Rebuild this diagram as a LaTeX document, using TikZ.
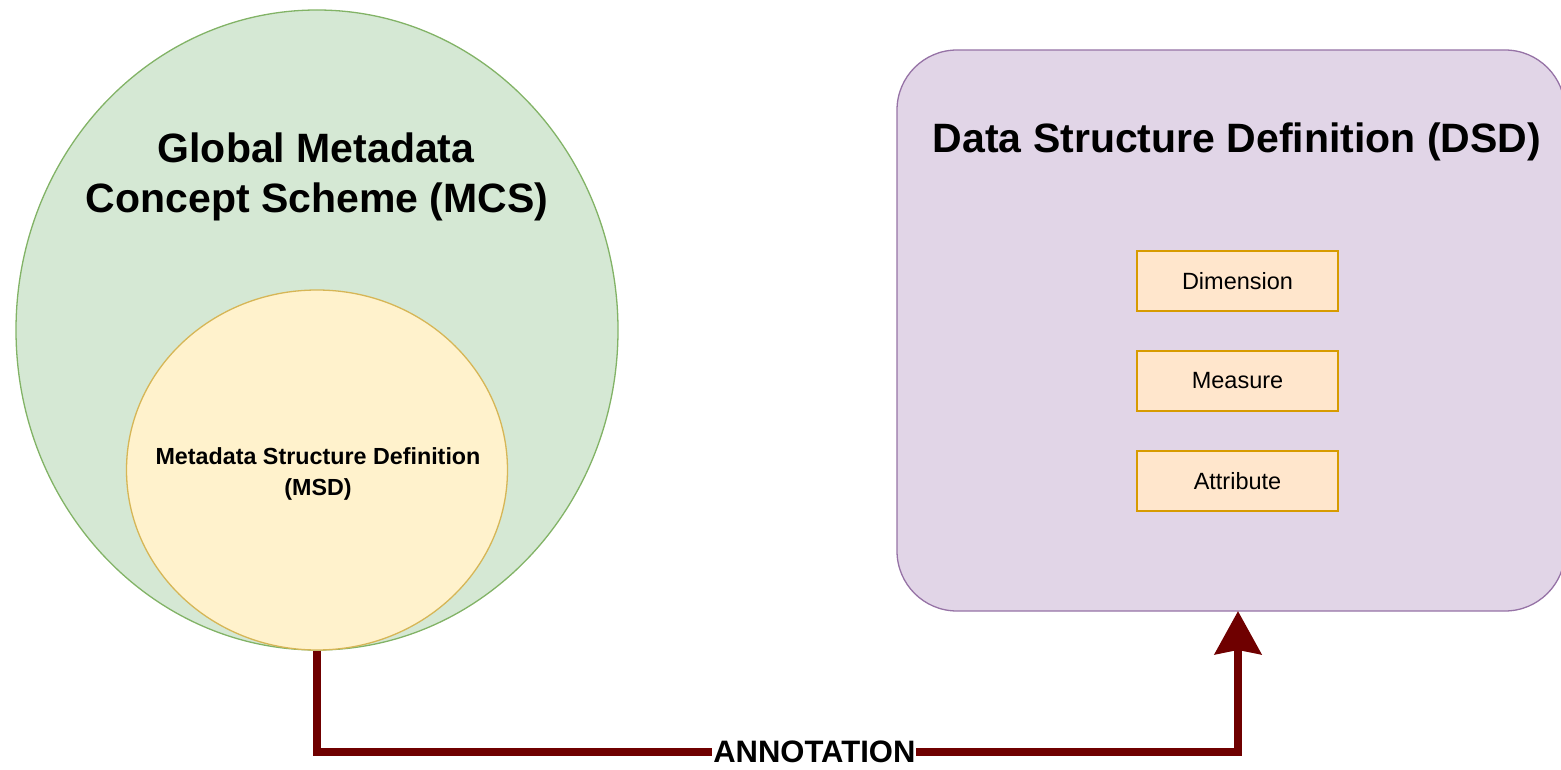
\documentclass[tikz,border=0pt]{standalone}
\usepackage{fontspec}
\setmainfont{Liberation Sans}
\usetikzlibrary{shapes.geometric,arrows.meta}
\definecolor{mcsfill}{HTML}{D5E8D4}
\definecolor{mcsline}{HTML}{82B366}
\definecolor{msdfill}{HTML}{FFF2CC}
\definecolor{msdline}{HTML}{D6B656}
\definecolor{dsdfill}{HTML}{E1D5E7}
\definecolor{dsdline}{HTML}{9673A6}
\definecolor{itemfill}{HTML}{FFE6CC}
\definecolor{itemline}{HTML}{D79B00}
\definecolor{annot}{HTML}{6F0000}
\tikzset{
  mcsshape/.style={ellipse, draw=mcsline, fill=mcsfill, line width=1.3pt, inner sep=0pt,
    minimum width=602pt, minimum height=640pt},
  msdshape/.style={ellipse, draw=msdline, fill=msdfill, line width=1.3pt, inner sep=0pt,
    minimum width=381pt, minimum height=360pt},
  dsdshape/.style={rectangle, rounded corners=60pt, draw=dsdline, fill=dsdfill, line width=1.3pt,
    inner sep=0pt, minimum width=668pt, minimum height=561pt},
  itembox/.style={rectangle, draw=itemline, fill=itemfill, line width=2pt, inner sep=0pt,
    minimum width=201pt, minimum height=60pt, font=\fontsize{23.5}{28}\selectfont},
  bigtitle/.style={align=center, inner sep=0pt, font=\bfseries\fontsize{41}{50}\selectfont},
  smalltitle/.style={align=center, inner sep=0pt, font=\bfseries\fontsize{23.3}{31}\selectfont},
  annotline/.style={draw=annot, line width=8.5pt, line join=miter,
    -{Stealth[length=43pt,width=46pt,inset=4pt]}},
  annotlabel/.style={fill=white, inner sep=1pt, font=\bfseries\fontsize{31}{36}\selectfont}
}
\begin{document}
\begin{tikzpicture}[x=1pt,y=-1pt]
\useasboundingbox (0,0) rectangle (1561,770);
\clip (0,0) rectangle (1561,770);
\node[mcsshape] (mcs) at (317,330) {};
\node[msdshape] (msd) at (317,470) {};
\node[bigtitle, anchor=base] (mcsT1) at (316,163) {Global Metadata};
\node[bigtitle, anchor=base] (mcsT2) at (317,213) {Concept Scheme (MCS)};
\node[smalltitle, anchor=base] (msdT1) at (318,464) {Metadata Structure Definition};
\node[smalltitle, anchor=base] (msdT2) at (318,495) {(MSD)};
\node[dsdshape] (dsd) at (1231,330.5) {};
\node[bigtitle, anchor=base] (dsdT) at (1237,153) {Data Structure Definition (DSD)};
\node[itembox] (dim) at (1237.5,281) {Dimension};
\node[itembox] (mea) at (1237.5,381) {Measure};
\node[itembox] (att) at (1237.5,481) {Attribute};
\coordinate (turnB) at (1238,752);
\coordinate (target) at (1238,611);
\draw[annotline] (msd.south) |- node[annotlabel, pos=0.77] (annlab) {ANNOTATION} (turnB) -- (target);
\end{tikzpicture}
\end{document}
